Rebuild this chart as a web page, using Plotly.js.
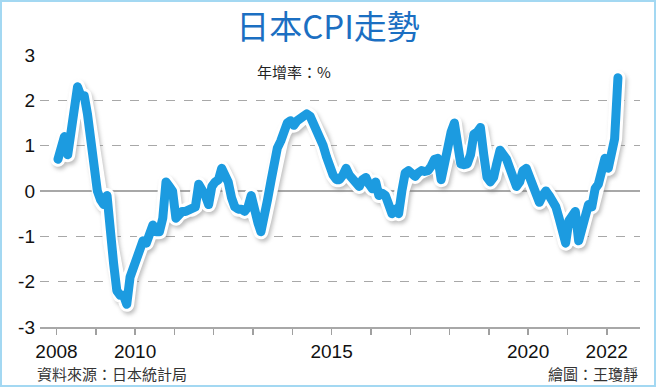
<!DOCTYPE html>
<html>
<head>
<meta charset="utf-8">
<script src="https://cdn.plot.ly/plotly-3.0.1.min.js"></script>
<style>
  html, body { margin: 0; padding: 0; background: #fff; }
  #wrap { position: relative; width: 656px; height: 387px; }
  #chart { width: 656px; height: 387px; }
  #frame { position: absolute; left: 0; top: 0; width: 656px; height: 387px; box-sizing: border-box;
           border: 2px solid #a3d8f2; pointer-events: none; }
  .js-line { stroke-linejoin: round; stroke-linecap: round; }
</style>
</head>
<body>
<div id="wrap"><div id="chart"></div><div id="frame"></div></div>
<script>
// Japan CPI, year-on-year change (%), monthly, Jan 2008 – Apr 2022
const years = [2008, 2009, 2010, 2011, 2012, 2013, 2014, 2015, 2016, 2017, 2018, 2019, 2020, 2021, 2022];
const cpi2008 = [0.7, 1.0, 1.2, 0.8, 1.3, 2.0, 2.3, 2.1, 2.1, 1.7, 1.2, 0.4];
const cpi2009 = [0.0, -0.2, -0.3, -0.1, -1.1, -1.6, -2.2, -2.3, -2.3, -2.5, -1.9, -1.7];
const cpi2010 = [-1.4, -1.15, -1.1, -1.15, -0.95, -0.75, -0.9, -0.9, -0.6, 0.2, 0.1, 0.0];
const cpi2011 = [-0.6, -0.5, -0.45, -0.45, -0.4, -0.4, -0.35, 0.15, 0.05, -0.1, -0.3, 0.1];
const cpi2012 = [0.2, 0.25, 0.5, 0.35, 0.2, -0.15, -0.35, -0.4, -0.4, -0.45, -0.35, -0.1];
const cpi2013 = [-0.5, -0.7, -0.9, -0.6, -0.2, 0.2, 0.7, 0.95, 1.1, 1.3, 1.5, 1.55];
const cpi2014 = [1.45, 1.55, 1.6, 1.65, 1.7, 1.65, 1.5, 1.4, 1.25, 1.0, 0.75, 0.45];
const cpi2015 = [0.35, 0.25, 0.25, 0.35, 0.5, 0.35, 0.25, 0.15, 0.1, 0.25, 0.3, 0.15];
const cpi2016 = [0.05, 0.2, -0.1, -0.05, -0.1, -0.3, -0.5, -0.4, -0.5, 0.0, 0.4, 0.45];
const cpi2017 = [0.4, 0.32, 0.4, 0.45, 0.43, 0.45, 0.55, 0.7, 0.72, 0.25, 0.6, 1.0];
const cpi2018 = [1.3, 1.5, 1.0, 0.6, 0.58, 0.6, 0.8, 1.25, 1.3, 1.4, 0.8, 0.3];
const cpi2019 = [0.2, 0.3, 0.6, 0.9, 0.8, 0.7, 0.5, 0.3, 0.1, 0.2, 0.45, 0.5];
const cpi2020 = [0.3, 0.1, -0.1, -0.25, -0.1, 0.0, -0.1, -0.2, -0.35, -0.6, -0.9, -1.15];
const cpi2021 = [-0.65, -0.5, -0.45, -1.1, -0.8, -0.55, -0.3, -0.35, 0.05, 0.15, 0.5, 0.72];
const cpi2022 = [0.5, 0.85, 1.15, 2.5];
const cpiByYear = [cpi2008, cpi2009, cpi2010, cpi2011, cpi2012, cpi2013, cpi2014, cpi2015,
                   cpi2016, cpi2017, cpi2018, cpi2019, cpi2020, cpi2021, cpi2022];

const yTicks = [-3, -2, -1, 0, 1, 2, 3];
const xTickYears = [2008, 2009, 2010, 2011, 2012, 2013, 2014, 2015, 2016, 2017, 2018, 2019, 2020, 2021, 2022];
const xLabelYears = [2008, 2010, 2015, 2020, 2022];

const titleText = '日本CPI走勢';
const unitText = '年增率：%';
const sourceText = '資料來源：日本統計局';
const creditText = '繪圖：王瓊靜';

// build dates / values
const dates = [], values = [];
years.forEach((y, i) => {
  cpiByYear[i].forEach((v, m) => {
    dates.push(y + '-' + String(m + 1).padStart(2, '0') + '-15');
    values.push(v);
  });
});

const blue = '#1c9be0';
const shadowTrace = { x: dates, y: values, mode: 'lines',
  line: { color: 'rgb(121,121,121)', width: 14 }, opacity: 0.5, hoverinfo: 'skip' };
const whiteTrace = { x: dates, y: values, mode: 'lines',
  line: { color: '#ffffff', width: 15 }, hoverinfo: 'skip' };
const blueTrace = { x: dates, y: values, mode: 'lines',
  line: { color: blue, width: 9 } };

const xRange = ['2007-08-01', '2022-11-06'];
const fontFamily = '"Liberation Sans", Arial, sans-serif';
const cjk = '"Noto Sans CJK TC", "Noto Sans", sans-serif';

const layout = {
  width: 656, height: 387,
  margin: { l: 40, r: 16, t: 55, b: 60 },
  paper_bgcolor: '#ffffff', plot_bgcolor: '#ffffff',
  showlegend: false,
  title: { text: titleText, x: 0.5, xanchor: 'center', y: 0.93, yanchor: 'middle',
           font: { family: cjk, size: 33, color: '#1b6fc2' } },
  xaxis: {
    type: 'date', range: xRange,
    tickmode: 'array',
    tickvals: xTickYears.map(y => y + '-01-01'),
    ticktext: xTickYears.map(y => xLabelYears.includes(y) ? String(y) : ''),
    ticks: 'outside', ticklen: 6, tickwidth: 1.5, tickcolor: '#a0a0a0',
    showgrid: false, zeroline: false,
    showline: true, linecolor: '#a8a8a8', linewidth: 2,
    tickfont: { family: fontFamily, size: 19, color: '#111' },
    fixedrange: true
  },
  yaxis: {
    range: [-3, 3], tickvals: yTicks, ticktext: yTicks.map(String),
    showgrid: true, gridcolor: '#a8a8a8', gridwidth: 1, griddash: 'dash',
    zeroline: true, zerolinecolor: '#a8a8a8', zerolinewidth: 1.5,
    ticks: '', showline: false, ticklabelstandoff: 4,
    tickfont: { family: fontFamily, size: 19, color: '#111' },
    fixedrange: true
  },
  annotations: [
    { text: unitText, xref: 'paper', yref: 'paper', x: 0.423, y: 0.94, xanchor: 'center', yanchor: 'middle',
      showarrow: false, font: { family: cjk, size: 15, color: '#222' } },
    { text: sourceText, xref: 'paper', yref: 'paper', x: -0.008, y: -0.17, xanchor: 'left', yanchor: 'middle',
      showarrow: false, font: { family: cjk, size: 15, color: '#333' } },
    { text: creditText, xref: 'paper', yref: 'paper', x: 1.0, y: -0.17, xanchor: 'right', yanchor: 'middle',
      showarrow: false, font: { family: cjk, size: 15, color: '#333' } }
  ]
};

Plotly.newPlot('chart', [shadowTrace, whiteTrace, blueTrace], layout, { displayModeBar: false, staticPlot: true })
  .then(gd => {
    gd.querySelectorAll('path.js-line').forEach(p => {
      if ((p.style.stroke || '').replace(/\s/g, '') === 'rgb(121,121,121)') {
        p.style.transform = 'translate(2px, 3px)';
        p.style.filter = 'blur(2px)';
      }
    });
  });
</script>
</body>
</html>
